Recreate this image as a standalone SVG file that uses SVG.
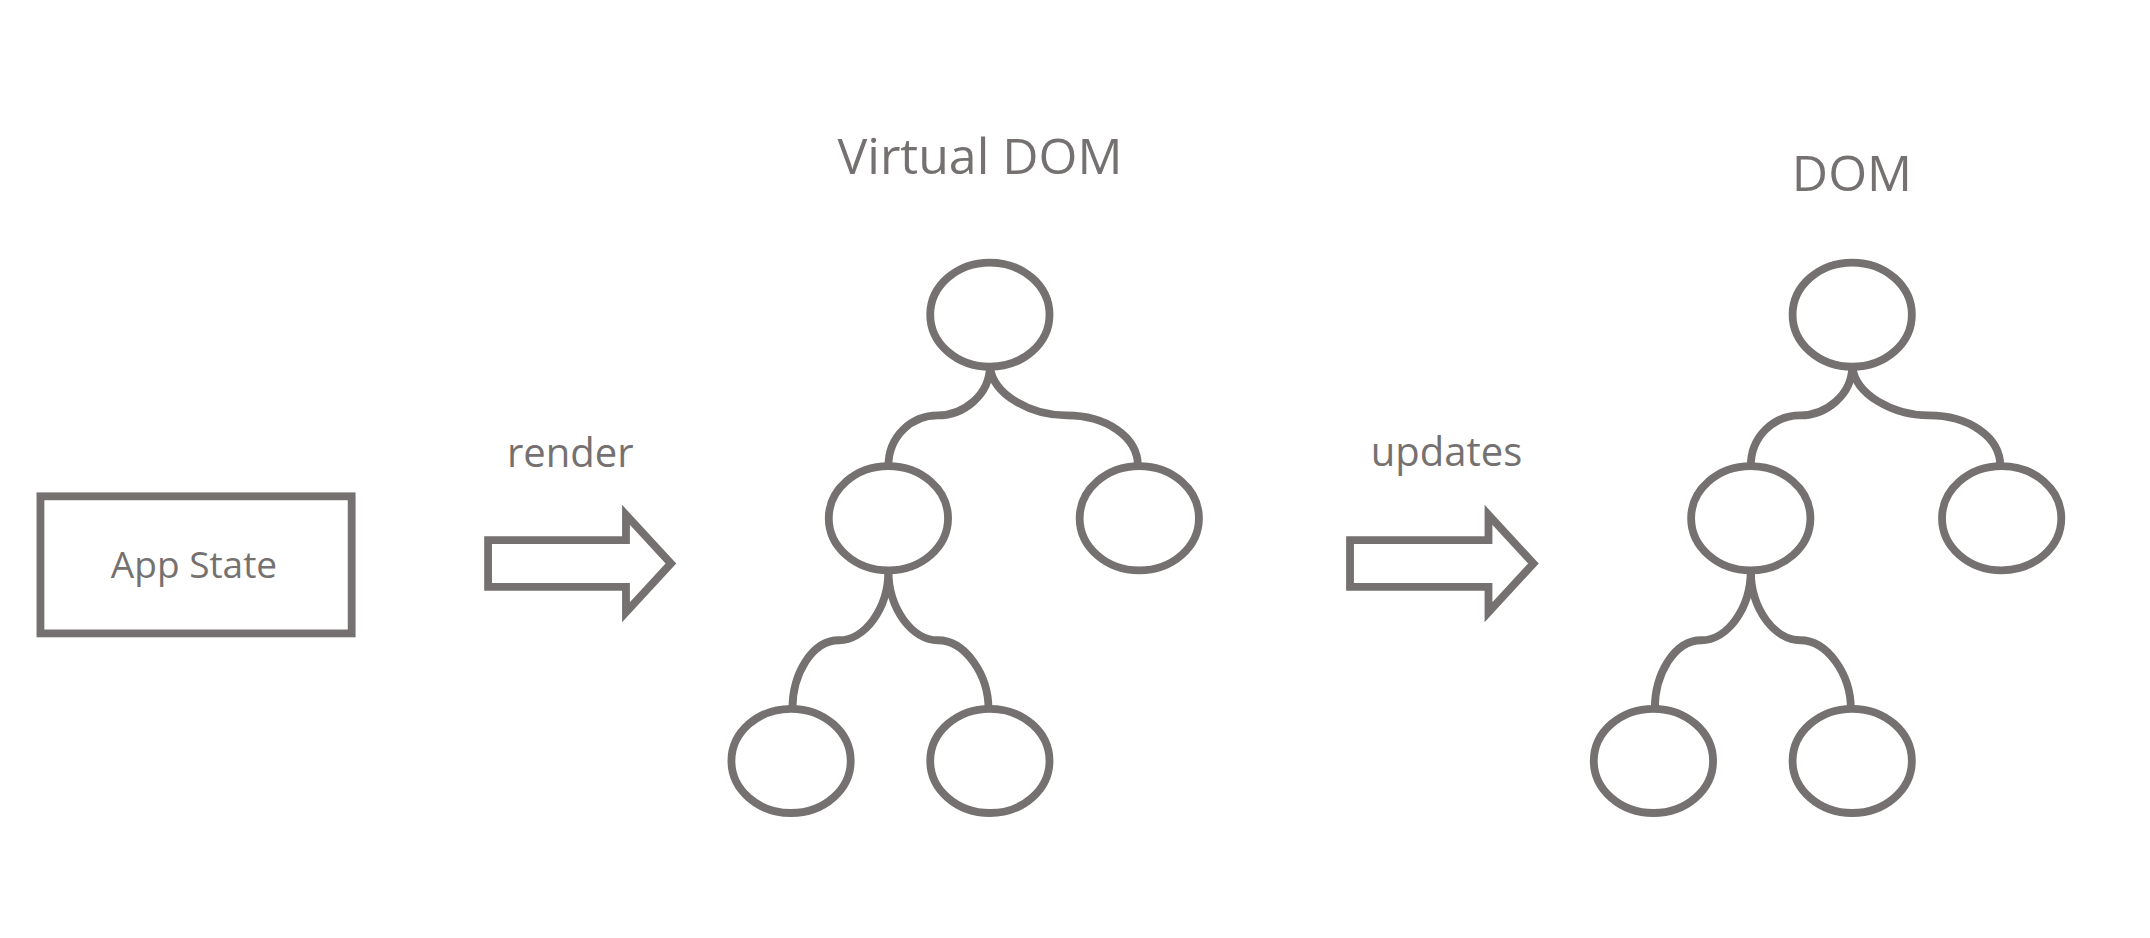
<svg xmlns="http://www.w3.org/2000/svg" width="2150" height="938" viewBox="0 0 2150 938">
<style>
.s{fill:none;stroke:#767171;stroke-width:5.7}
.n{fill:#fff;stroke:#767171;stroke-width:5.7}
.t{font-family:"Open Sans","Liberation Sans",sans-serif;fill:#767171;text-anchor:middle}
</style>
<rect width="2150" height="938" fill="#fff"/>
<g transform="scale(1.371)">
<g id="connectors">
<path class="s" d="M722,267 C722,288 703,303 684,303 C665,303 648,318 648,340"/>
<path class="s" d="M722,267 C724,288 752,303 778,303 C806,303 830,318 830,340"/>
<path class="s" d="M648,416 C648,445 630,467 612,467 C592,467 578,492 578,517"/>
<path class="s" d="M648,416 C648,445 666,467 684,467 C704,467 721,492 721,517"/>
<path class="s" d="M1351,267 C1351,288 1332,303 1313,303 C1294,303 1277,318 1277,340"/>
<path class="s" d="M1351,267 C1353,288 1381,303 1407,303 C1435,303 1459,318 1459,340"/>
<path class="s" d="M1277,416 C1277,445 1259,467 1241,467 C1221,467 1207,492 1207,517"/>
<path class="s" d="M1277,416 C1277,445 1295,467 1313,467 C1333,467 1350,492 1350,517"/>
</g>
<g id="app-state">
<rect class="n" x="29.5" y="362" width="227" height="100"/>
<text class="t" x="141.5" y="421.6" font-size="27">App State</text>
</g>
<g id="render-arrow">
<path class="n" d="M356,394 H456.6 V375.5 L489.4,411 L456.6,446.5 V428 H356 Z"/>
<text class="t" x="416" y="340.6" font-size="29.2">render</text>
</g>
<g id="vdom-title"><text class="t" x="714.8" y="126.9" font-size="36.5">Virtual DOM</text></g>
<g id="vdom-root"><ellipse class="n" cx="722" cy="229.5" rx="43.5" ry="38"/></g>
<g id="vdom-left"><ellipse class="n" cx="648" cy="378" rx="43.5" ry="38"/></g>
<g id="vdom-right"><ellipse class="n" cx="831" cy="378" rx="43.5" ry="38"/></g>
<g id="vdom-leaf1"><ellipse class="n" cx="577" cy="555" rx="43.5" ry="38"/></g>
<g id="vdom-leaf2"><ellipse class="n" cx="722" cy="555" rx="43.5" ry="38"/></g>
<g id="updates-arrow">
<path class="n" d="M984.7,394 H1085.7 V375.5 L1118.5,411 L1085.7,446.5 V428 H984.7 Z"/>
<text class="t" x="1055.1" y="340" font-size="29.2">updates</text>
</g>
<g id="dom-title"><text class="t" x="1350.8" y="139" font-size="36.5">DOM</text></g>
<g id="dom-root"><ellipse class="n" cx="1351" cy="229.5" rx="43.5" ry="38"/></g>
<g id="dom-left"><ellipse class="n" cx="1277" cy="378" rx="43.5" ry="38"/></g>
<g id="dom-right"><ellipse class="n" cx="1460" cy="378" rx="43.5" ry="38"/></g>
<g id="dom-leaf1"><ellipse class="n" cx="1206" cy="555" rx="43.5" ry="38"/></g>
<g id="dom-leaf2"><ellipse class="n" cx="1351" cy="555" rx="43.5" ry="38"/></g>
</g>
</svg>
